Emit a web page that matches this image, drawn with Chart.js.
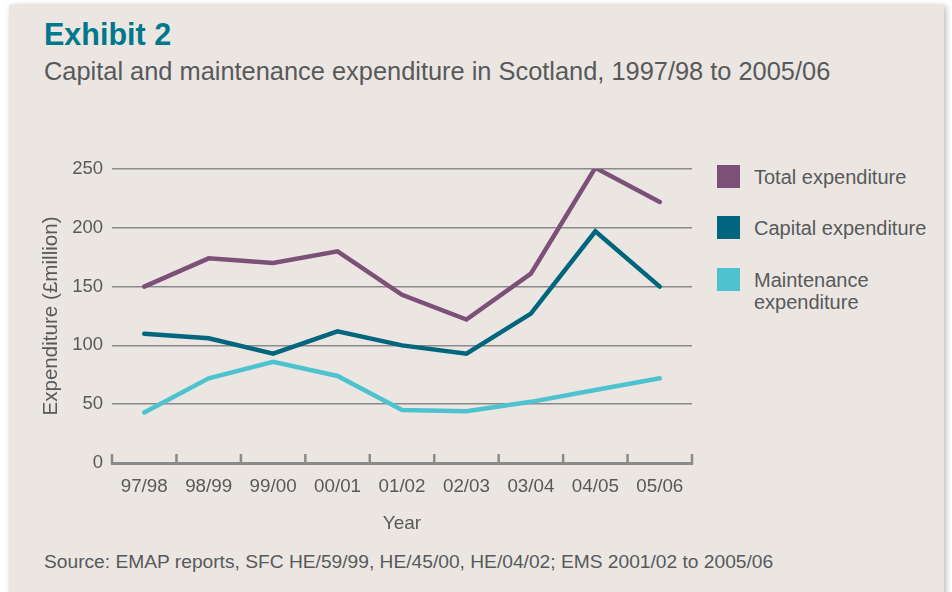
<!DOCTYPE html>
<html>
<head>
<meta charset="utf-8">
<script src="https://cdn.jsdelivr.net/npm/chart.js@4.4.0/dist/chart.umd.min.js"></script>
<style>
  html, body { margin:0; padding:0; background:#ffffff; width:952px; height:592px; overflow:hidden;
    font-family:"Liberation Sans", Arial, sans-serif; }
  #panel { position:absolute; left:9px; top:5px; width:935px; height:620px; background:#EBE6E2;
    box-shadow:2px 1px 6px rgba(0,0,0,0.28); }
  #chart { position:absolute; left:0; top:0; }
  .txt { position:absolute; white-space:nowrap; color:#58595B; }
  #title { left:44px; top:16px; font-size:30.5px; line-height:36px; font-weight:bold; color:#00788C; }
  #subtitle { left:44px; top:56px; font-size:25.4px; line-height:30px; }
  #source { left:44px; top:551px; font-size:19.2px; line-height:22px; }
  .sw { position:absolute; left:717px; width:23px; height:23px; }
  .lg { position:absolute; left:754px; font-size:20px; line-height:22px; color:#58595B; white-space:nowrap; }
</style>
</head>
<body>
<div id="panel"></div>
<div id="title" class="txt">Exhibit 2</div>
<div id="subtitle" class="txt">Capital and maintenance expenditure in Scotland, 1997/98 to 2005/06</div>
<div id="legend"></div>
<div id="source" class="txt">Source: EMAP reports, SFC HE/59/99, HE/45/00, HE/04/02; EMS 2001/02 to 2005/06</div>
<canvas id="chart" width="952" height="592"></canvas>
<script>
// ---- data ----
const categories = ['97/98','98/99','99/00','00/01','01/02','02/03','03/04','04/05','05/06'];
const totalExpenditure       = [150, 174, 170, 180, 143, 122, 161, 251, 222];
const capitalExpenditure     = [110, 106,  93, 112, 100,  93, 127, 197, 150];
const maintenanceExpenditure = [ 43,  72,  86,  74,  45,  44,  52,  62,  72];
const yTickValues = [0, 50, 100, 150, 200, 250];
const seriesNames = ['Total expenditure', 'Capital expenditure', ['Maintenance', 'expenditure']];
const seriesColors = ['#7D5079', '#00667D', '#4EC3CF'];

const textColor = '#58595B';
const axisGray = '#8A8A8A';

// HTML legend
const legendTops = [165, 216, 268];
const legendEl = document.getElementById('legend');
seriesNames.forEach((name, i) => {
  const sw = document.createElement('div');
  sw.className = 'sw';
  sw.style.top = legendTops[i] + 'px';
  sw.style.background = seriesColors[i];
  legendEl.appendChild(sw);
  const lg = document.createElement('div');
  lg.className = 'lg';
  lg.style.top = (legendTops[i] + 1) + 'px';
  lg.innerHTML = Array.isArray(name) ? name.join('<br>') : name;
  legendEl.appendChild(lg);
});

// upward tick marks on the x axis at category boundaries
const tickMarks = {
  id: 'tickMarks',
  afterDatasetsDraw(chart) {
    const xs = chart.scales.x;
    const bottom = chart.chartArea.bottom;
    const ctx = chart.ctx;
    ctx.save();
    ctx.strokeStyle = axisGray;
    ctx.lineWidth = 2.5;
    for (let i = 0; i <= categories.length; i++) {
      const px = xs.getPixelForValue(i - 0.5);
      ctx.beginPath();
      ctx.moveTo(px, bottom + 1);
      ctx.lineTo(px, bottom - 9);
      ctx.stroke();
    }
    ctx.restore();
  }
};

const mkDs = (label, data, color) => ({
  label, data, borderColor: color, backgroundColor: color,
  borderWidth: 4.5, pointRadius: 0, tension: 0, fill: false,
  borderCapStyle: 'round', borderJoinStyle: 'miter'
});

new Chart(document.getElementById('chart'), {
  type: 'line',
  data: {
    labels: categories,
    datasets: [
      mkDs('Maintenance expenditure', maintenanceExpenditure, seriesColors[2]),
      mkDs('Capital expenditure', capitalExpenditure, seriesColors[1]),
      mkDs('Total expenditure', totalExpenditure, seriesColors[0])
    ]
  },
  options: {
    responsive: false,
    animation: false,
    devicePixelRatio: 1,
    layout: { padding: { top: 169, right: 260, bottom: 49, left: 0 } },
    plugins: { legend: { display: false }, tooltip: { enabled: false }, title: { display: false } },
    scales: {
      x: {
        type: 'category',
        offset: true,
        grid: { display: true, drawOnChartArea: false, drawTicks: false, offset: true },
        border: { display: true, color: axisGray, width: 3 },
        ticks: { color: textColor, font: { family: 'Liberation Sans', size: 18.8 }, padding: 13,
                 maxRotation: 0, autoSkip: false },
        title: { display: true, text: 'Year', color: textColor,
                 font: { family: 'Liberation Sans', size: 19 }, padding: { top: 0, bottom: 8 } },
        afterFit: s => { s.height = 80; }
      },
      y: {
        min: 0, max: 250,
        afterBuildTicks: s => { s.ticks = yTickValues.map(v => ({ value: v })); },
        ticks: { color: textColor, font: { family: 'Liberation Sans', size: 18.5 }, padding: 9 },
        grid: { color: axisGray, lineWidth: 1.5, drawTicks: false },
        border: { display: false },
        title: { display: true, text: 'Expenditure (£million)', color: textColor,
                 font: { family: 'Liberation Sans', size: 20.6 }, padding: { top: 39, bottom: 0 } },
        afterFit: s => { s.width = 112; }
      }
    }
  },
  plugins: [tickMarks]
});
</script>
</body>
</html>
